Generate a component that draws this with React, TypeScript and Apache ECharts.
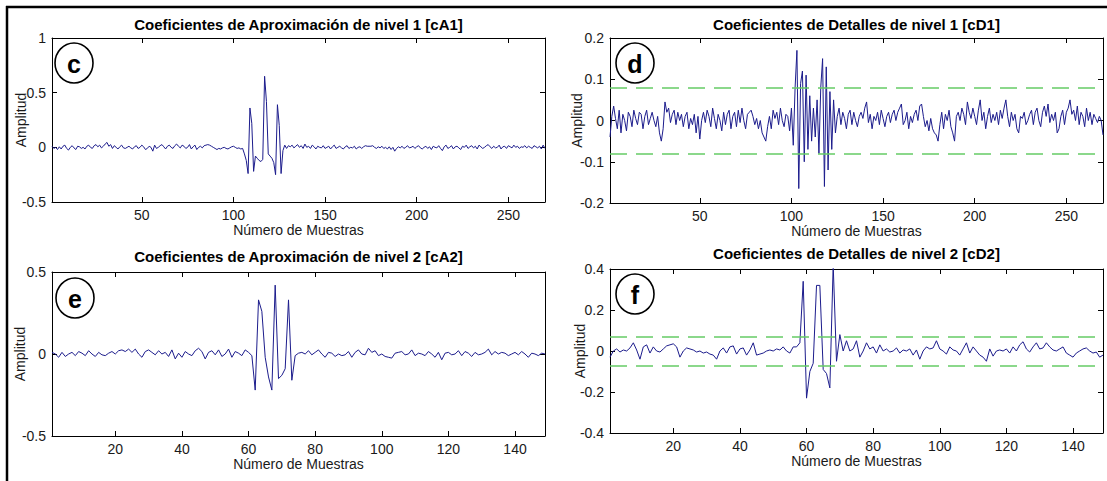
import React, { useEffect, useRef } from "react";
import * as echarts from "echarts";

// ---- Data ----
const cA1 = [
  0.01, -0.01, 0, -0.02, 0.005, -0.015, 0.01, 0.02, -0.01, -0.025,
  0, 0.015, -0.005, -0.02, 0.01, 0.005, -0.01, 0, -0.015, 0.01,
  0.02, 0, -0.01, 0.015, 0.025, 0.005, 0.02, -0.005, 0.01, 0.03,
  0.045, 0.01, 0.025, -0.01, 0.015, 0, -0.015, 0.005, 0.02, -0.005,
  -0.01, 0, 0.01, -0.005, -0.015, 0.005, 0.015, -0.01, 0, 0.02,
  0.005, -0.02, -0.01, 0.01, 0, -0.035, 0.02, -0.01, 0, 0.015,
  0.025, 0.005, -0.015, 0.01, 0.02, 0, -0.01, 0.015, 0.03, 0.01,
  -0.005, 0.02, 0.01, -0.01, 0, 0.025, -0.015, 0.005, 0.02, -0.02,
  0, 0.01, -0.005, 0.015, 0.02, 0.025, 0.02, 0.01, 0, -0.01,
  -0.02, -0.01, -0.015, -0.005, 0, -0.01, -0.015, -0.005, 0.005, 0.01,
  0, -0.01, -0.005, -0.015, -0.01, -0.06, -0.12, -0.24, 0.36, 0.22,
  -0.22, -0.08, -0.1, -0.12, -0.13, -0.11, 0.65, 0.42, -0.06, -0.08,
  -0.1, -0.14, -0.25, 0.39, 0.2, -0.24, -0.03, 0.02, -0.01, 0.015,
  0.005, 0.02, -0.005, 0.01, 0.025, 0, 0.015, -0.01, 0.03, 0,
  0.01, -0.01, 0.02, 0.005, -0.015, 0.01, 0, -0.005, 0.015, -0.01,
  0, 0.01, -0.015, 0.005, 0.02, -0.01, 0, 0.01, -0.005, -0.015,
  0.005, 0.015, -0.01, 0, -0.005, 0.01, -0.015, 0, 0.005, -0.01,
  0.005, 0.015, 0.01, 0.01, 0.01, 0.015, 0, -0.01, 0.005, -0.005,
  0.01, -0.01, 0, -0.015, 0.005, -0.02, 0, -0.035, -0.01, 0.005,
  -0.005, 0.01, -0.01, 0, 0.015, -0.005, 0, 0.01, -0.01, 0.005,
  0.015, -0.005, -0.015, 0, 0.01, -0.01, 0.005, -0.02, 0.01, 0,
  -0.005, 0.015, -0.01, -0.03, 0.005, 0.02, -0.01, 0, 0.015, -0.015,
  0.005, 0.01, -0.005, -0.02, 0.01, 0, 0.02, -0.01, 0.005, 0.015,
  -0.005, 0.01, -0.015, 0.02, 0.005, -0.01, 0, 0.015, 0.025, 0.005,
  -0.01, 0.01, -0.005, 0, 0.02, -0.015, 0.005, 0.01, -0.01, 0.015,
  0.005, -0.005, 0.02, 0, 0.01, -0.01, 0.005, 0, 0.015, -0.005,
  0.01, 0, -0.01, 0.015, 0.005, -0.005, 0.01, -0.015, 0.02, -0.01,
];

const cD1 = [
  -0.04, 0.01, 0.035, 0.005, -0.02, 0.025, -0.03, 0.015, 0, -0.025,
  0.02, 0.01, -0.015, 0.025, 0.005, -0.01, 0.02, 0.015, -0.02, 0.01,
  0.025, -0.01, 0.005, 0.02, 0, -0.015, 0.01, -0.03, -0.05, -0.02,
  0.045, 0.02, 0.03, -0.005, 0.015, 0.025, -0.01, 0.02, 0, 0.015,
  -0.015, 0.01, 0.02, -0.02, 0.005, -0.01, 0.015, -0.03, 0.01, -0.045,
  0, 0.02, -0.005, 0.025, 0.01, -0.015, 0.03, 0.005, -0.02, 0.015,
  0, -0.025, 0.02, -0.01, 0.015, 0.025, -0.02, 0.01, 0.02, -0.015,
  0.025, -0.005, 0.03, 0, -0.02, 0.015, 0.02, 0.025, 0.01, -0.01,
  0.005, -0.02, 0, -0.03, -0.04, -0.05, -0.015, 0.01, -0.02, 0.025,
  0.005, 0.02, -0.01, 0.03, 0, -0.015, 0.015, 0.01, -0.025, 0.03,
  -0.06, 0.08, 0.17, -0.165, 0.09, 0.12, -0.1, 0.11, -0.07, 0.06,
  -0.05, 0.03, -0.04, 0.05, -0.08, 0.08, 0.15, -0.16, 0.13, -0.12,
  0.07, -0.07, 0.05, -0.03, 0.01, 0.03, -0.01, 0.02, 0.005, -0.02,
  0.015, 0.025, -0.01, 0.02, 0, -0.015, 0.01, 0.02, 0.005, 0.03,
  0.045, -0.005, 0.015, -0.02, 0.01, 0, 0.02, -0.01, 0.025, 0.005,
  -0.015, 0.01, 0.02, -0.005, 0.015, 0.025, 0, 0.02, 0.03, 0.04,
  -0.01, 0, 0.02, -0.02, 0.01, -0.005, 0.015, 0.025, 0, 0.035,
  0.04, 0.01, -0.015, 0, -0.025, 0.005, -0.02, -0.03, -0.035, -0.05,
  -0.01, 0.02, -0.02, 0.015, 0, 0.025, -0.015, -0.03, -0.05, 0.01,
  0.02, 0, 0.03, 0.015, -0.01, 0.045, 0.02, 0.005, 0.03, 0.01,
  -0.01, 0.025, 0.05, 0, 0.02, -0.02, 0.01, 0.03, -0.005, 0.015,
  0, 0.02, -0.01, 0.025, 0.005, 0.03, 0.05, 0.01, -0.015, 0.02,
  0, 0.015, -0.02, -0.03, 0.01, 0.005, 0.02, -0.01, 0, 0.015,
  0.025, -0.01, 0.02, 0.03, 0, -0.015, 0.02, 0.035, 0.01, 0.04,
  -0.005, 0.015, 0, 0.02, -0.03, -0.02, 0.01, 0.025, -0.01, 0.02,
  0.03, 0.05, 0.015, 0.025, 0, 0.035, -0.01, 0.02, 0.01, -0.015,
  0.03, 0, 0.02, -0.01, 0.015, 0.005, -0.005, 0.01, 0, -0.035,
];

const cA2 = [
  0.01, 0, -0.02, 0.01, -0.015, 0, 0.01, -0.01, 0.015, 0.005,
  -0.01, 0.02, 0, -0.015, 0.01, -0.005, -0.01, 0.005, 0.015, 0,
  0.02, 0.025, 0.015, 0.03, 0.01, 0.03, 0, -0.02, 0.015, 0.025,
  0.01, -0.005, 0.02, 0, 0.01, -0.015, 0.025, -0.03, 0.005, -0.02,
  0.015, 0, -0.01, 0.02, 0.035, 0.015, -0.03, 0.01, 0.02, -0.005,
  0.025, -0.015, 0, 0.03, -0.02, 0.015, 0.005, -0.01, 0.025, 0.01,
  -0.01, -0.22, 0.33, 0.26, -0.02, -0.14, -0.22, 0.42, -0.15, -0.13,
  -0.09, 0.33, -0.16, -0.01, 0.005, 0.01, 0, 0.02, -0.005, 0.01,
  0.025, 0, -0.02, 0.01, 0.005, -0.015, 0, -0.01, -0.005, 0.015,
  -0.02, 0.01, 0.025, 0, -0.005, 0.035, 0.01, 0.02, -0.01, 0,
  -0.015, -0.02, -0.025, 0.005, 0.01, 0.015, -0.005, 0, 0.025, -0.01,
  0.005, 0, -0.01, 0.015, 0, -0.02, 0.01, -0.035, 0.005, 0.01,
  -0.005, 0, 0.02, -0.01, 0.015, 0.005, -0.015, 0.01, -0.005, 0,
  0.01, 0.03, -0.005, 0.015, 0, 0.01, 0.005, -0.01, 0, 0.01,
  -0.005, 0.015, 0, -0.02, 0.005, 0, -0.01, 0.005, 0,
];

const cD2 = [
  -0.03, 0, 0.01, -0.005, 0.005, 0, 0.015, 0.04, 0.005, -0.04,
  0.02, 0.03, -0.01, 0.02, 0, -0.005, 0.01, 0.025, 0.03, 0.035,
  0.02, -0.03, 0, 0.015, 0.01, 0.005, -0.005, 0, -0.01, -0.005,
  -0.015, -0.02, -0.04, 0, 0.015, -0.01, 0.02, 0.025, -0.015, 0.01,
  0.015, -0.02, 0.005, 0.04, -0.02, -0.015, -0.01, 0, 0.005, 0,
  0.01, 0.005, 0.02, 0, -0.01, 0.02, 0.02, 0.04, 0.34, -0.23,
  -0.1, -0.06, 0.32, 0.32, -0.09, -0.11, -0.18, 0.42, -0.05, 0.08,
  0, 0.05, 0, 0.01, 0.05, -0.03, 0, 0.04, 0.01, 0.02,
  -0.01, 0.03, 0, 0.01, -0.005, 0, 0.015, -0.01, 0.005, 0,
  0.01, -0.02, 0.005, -0.04, 0, 0.02, 0.01, 0.015, 0.05, 0.01,
  0, -0.015, 0.02, 0.005, 0, -0.02, 0.01, 0.04, -0.01, 0.02,
  0, -0.02, -0.03, -0.05, 0.01, -0.025, 0, 0.005, 0, 0.01,
  -0.01, 0.02, 0, 0.03, 0.045, 0.01, -0.005, 0.02, 0.04, 0.01,
  0.015, 0.04, 0.02, 0.005, 0, 0.01, 0.02, -0.01, -0.02, -0.03,
  -0.01, 0, 0.01, 0.015, 0, -0.01, -0.005, -0.03, -0.02,
];

const thresholdD1 = 0.082;
const thresholdD2 = 0.073;

const xTicksL1 = [50, 100, 150, 200, 250];
const xTicksL2 = [20, 40, 60, 80, 100, 120, 140];
const yTicksC = [-0.5, 0, 0.5, 1];
const yTicksD = [-0.2, -0.1, 0, 0.1, 0.2];
const yTicksE = [-0.5, 0, 0.5];
const yTicksF = [-0.4, -0.2, 0, 0.2, 0.4];

const titles = [
  "Coeficientes de Aproximación de nivel 1 [cA1]",
  "Coeficientes de Detalles de nivel 1 [cD1]",
  "Coeficientes de Aproximación de nivel 2 [cA2]",
  "Coeficientes de Detalles de nivel 2 [cD2]",
];
const letters = ["c", "d", "e", "f"];
const xName = "Número de Muestras";
const yName = "Amplitud";

// ---- Layout / style ----
const FONT = "'Liberation Sans', Arial, Helvetica, sans-serif";
const LINE_COLOR = "#1c1c8c";
const GREEN = "#66cc66";

const layout = [
  { left: 52, top: 38, width: 493, height: 164, titleY: 24, yGap: 24, cx: 74, cy: 63 },
  { left: 610, top: 38, width: 493, height: 165, titleY: 24, yGap: 26, cx: 635, cy: 63 },
  { left: 52, top: 272, width: 493, height: 164, titleY: 256, yGap: 25, cx: 75, cy: 298 },
  { left: 610, top: 269, width: 493, height: 164, titleY: 253, yGap: 23, cx: 635, cy: 294 },
];

const panels = [
  { data: cA1, xTicks: xTicksL1, yTicks: yTicksC, thr: null as number | null },
  { data: cD1, xTicks: xTicksL1, yTicks: yTicksD, thr: thresholdD1 as number | null },
  { data: cA2, xTicks: xTicksL2, yTicks: yTicksE, thr: null as number | null },
  { data: cD2, xTicks: xTicksL2, yTicks: yTicksF, thr: thresholdD2 as number | null },
];

function buildOption() {
  const grid: any[] = [];
  const xAxis: any[] = [];
  const yAxis: any[] = [];
  const series: any[] = [];
  const graphic: any[] = [];

  const axisLine = { show: true, onZero: false, lineStyle: { color: "#000", width: 1 } };
  const labelStyle = { color: "#1a1a1a", fontSize: 14, fontFamily: FONT };

  panels.forEach((p, i) => {
    const L = layout[i];
    grid.push({ left: L.left, top: L.top, width: L.width, height: L.height, containLabel: false, outerBoundsMode: "none" });
    const xMin = 1;
    const xMax = p.data.length;
    const yMin = p.yTicks[0];
    const yMax = p.yTicks[p.yTicks.length - 1];
    const tick = (vals: number[]) => ({ show: true, inside: true, length: 5, customValues: vals, lineStyle: { color: "#000", width: 1 } });

    xAxis.push({
      type: "value", gridIndex: i, position: "bottom", min: xMin, max: xMax,
      axisLine, axisTick: tick(p.xTicks),
      axisLabel: { ...labelStyle, customValues: p.xTicks, margin: 6 },
      splitLine: { show: false },
      name: xName, nameLocation: "middle", nameGap: 21, nameMoveOverlap: false,
      nameTextStyle: { color: "#1a1a1a", fontSize: 14, fontFamily: FONT },
    });
    xAxis.push({
      type: "value", gridIndex: i, position: "top", min: xMin, max: xMax,
      axisLine, axisTick: tick(p.xTicks), axisLabel: { show: false }, splitLine: { show: false },
    });
    yAxis.push({
      type: "value", gridIndex: i, position: "left", min: yMin, max: yMax,
      axisLine, axisTick: tick(p.yTicks),
      axisLabel: { ...labelStyle, customValues: p.yTicks, margin: 6 },
      splitLine: { show: false },
      name: yName, nameLocation: "middle", nameRotate: 90, nameGap: L.yGap, nameMoveOverlap: false,
      nameTextStyle: { color: "#1a1a1a", fontSize: 14, fontFamily: FONT },
    });
    yAxis.push({
      type: "value", gridIndex: i, position: "right", min: yMin, max: yMax,
      axisLine, axisTick: tick(p.yTicks), axisLabel: { show: false }, splitLine: { show: false },
    });

    const s: any = {
      type: "line",
      xAxisIndex: 2 * i,
      yAxisIndex: 2 * i,
      data: p.data.map((v, k) => [k + 1, v]),
      symbol: "none",
      showSymbol: false,
      clip: true,
      lineStyle: { color: LINE_COLOR, width: 1 },
      itemStyle: { color: LINE_COLOR },
      z: 3,
    };
    if (p.thr !== null) {
      s.markLine = {
        silent: true,
        symbol: ["none", "none"],
        label: { show: false },
        lineStyle: { color: GREEN, type: [17, 9], width: 1.6 },
        emphasis: { disabled: true },
        data: [{ yAxis: p.thr }, { yAxis: -p.thr }],
      };
    }
    series.push(s);

    graphic.push({
      type: "text",
      x: L.left + L.width / 2,
      y: L.titleY,
      style: { text: titles[i], fill: "#000", fontSize: 15, fontWeight: "bold", fontFamily: FONT, align: "center", verticalAlign: "middle" },
    });
    graphic.push({
      type: "ellipse",
      shape: { cx: L.cx, cy: L.cy, rx: 19, ry: 20 },
      style: { fill: "#fff", stroke: "#000", lineWidth: 1.6 },
      z: 100,
    });
    graphic.push({
      type: "text",
      x: L.cx,
      y: L.cy + 1,
      style: { text: letters[i], fill: "#000", fontSize: 25, fontWeight: "bold", fontFamily: FONT, align: "center", verticalAlign: "middle" },
      z: 101,
    });
  });

  graphic.push({ type: "line", shape: { x1: 6, y1: 7, x2: 1107, y2: 7 }, style: { stroke: "#000", lineWidth: 2.5 }, z: 100 });
  graphic.push({ type: "line", shape: { x1: 7, y1: 6, x2: 7, y2: 481 }, style: { stroke: "#000", lineWidth: 2.5 }, z: 100 });

  return {
    animation: false,
    backgroundColor: "#ffffff",
    grid,
    xAxis,
    yAxis,
    series,
    graphic,
  };
}

export default function App() {
  const ref = useRef<HTMLDivElement>(null);
  useEffect(() => {
    if (!ref.current) return;
    const chart = echarts.init(ref.current, undefined, { renderer: "svg" });
    chart.setOption(buildOption() as any);
    return () => chart.dispose();
  }, []);
  return (
    <div
      ref={ref}
      style={{ position: "absolute", left: 0, top: 0, width: 1107, height: 481, background: "#fff" }}
    />
  );
}
